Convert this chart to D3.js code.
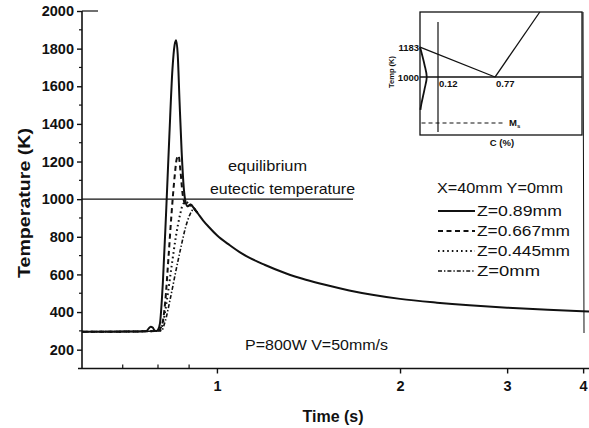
<!DOCTYPE html>
<html>
<head>
<meta charset="utf-8">
<script src="https://cdn.jsdelivr.net/npm/d3@7"></script>
<style>
  html, body { margin: 0; padding: 0; background: #fff; }
  svg { display: block; font-family: "Liberation Sans", Arial, Helvetica, sans-serif; }
</style>
</head>
<body>
<svg id="chart" width="589" height="428"></svg>
<script>
// Thermal cycle at X=40mm, Y=0mm for four depths below the surface (P=800W, V=50mm/s)

// Axis ticks
const tempTicks = [200, 400, 600, 800, 1000, 1200, 1400, 1600, 1800, 2000];
const tempMinorTicks = [300, 500, 700, 900, 1100, 1300, 1500, 1700, 1900];
const timeTicks = [1, 2, 3, 4];
const timeMinorTicks = [0.7, 0.8, 0.9];

// Heating part of each curve (time in s, temperature in K)
const z089Time = [0.60, 0.70, 0.765, 0.772, 0.778, 0.784, 0.789, 0.794, 0.800, 0.806, 0.815, 0.825, 0.835, 0.845, 0.852, 0.857, 0.862, 0.868, 0.875, 0.882, 0.888, 0.895, 0.905, 0.915];
const z089Temp = [295, 296, 298, 312, 322, 318, 304, 299, 306, 340, 560, 930, 1330, 1690, 1820, 1845, 1770, 1520, 1250, 1060, 985, 962, 972, 955];

const z0667Time = [0.60, 0.70, 0.800, 0.812, 0.822, 0.832, 0.842, 0.852, 0.859, 0.865, 0.871, 0.878, 0.886, 0.895, 0.905, 0.915];
const z0667Temp = [295, 296, 300, 330, 450, 680, 920, 1120, 1215, 1230, 1150, 1030, 975, 962, 970, 955];

const z0445Time = [0.60, 0.70, 0.805, 0.815, 0.828, 0.842, 0.856, 0.870, 0.880, 0.890, 0.900, 0.915];
const z0445Temp = [295, 296, 300, 340, 470, 640, 800, 920, 975, 985, 972, 955];

const z0Time = [0.60, 0.70, 0.810, 0.822, 0.838, 0.855, 0.872, 0.888, 0.902, 0.915];
const z0Temp = [295, 296, 300, 350, 470, 610, 740, 850, 915, 945];

// Common cooling branch shared by all depths
const coolTime = [0.93, 0.95, 0.97, 1.0, 1.05, 1.1, 1.2, 1.3, 1.4, 1.5, 1.65, 1.8, 2.0, 2.3, 2.6, 3.0, 3.5, 4.09];
const coolTemp = [925, 885, 852, 808, 755, 710, 650, 605, 572, 546, 515, 492, 470, 450, 436, 423, 412, 403];

const eutecticTemp = 1000;
const seriesLabels = ["Z=0.89mm", "Z=0.667mm", "Z=0.445mm", "Z=0mm"];
const seriesDash = [null, "5,3.5", "1.6,3", "4,2,1.4,2"];
const seriesWidth = [2, 2, 2, 1.6];

// Inset: Fe-C diagram near the eutectoid
const insetGammaC = [0, 0.03, 0.045, 0.03, 0.008, 0.003];
const insetGammaT = [1183, 1075, 1000, 925, 830, 800];
const insetA3C = [0, 0.77];
const insetA3T = [1183, 1000];
const insetAcmC = [0.77, 1.28];
const insetAcmT = [1000, 1397];
const insetEutectoidC = [0, 1.76];
const insetEutectoidT = [1000, 1000];
const insetSteelC = 0.12;
const insetSteelT = [1336, 664];
const insetMsC = [0.01, 0.885];
const insetMsT = 719;
const insetTempLabels = [1183, 1000];
const insetCLabels = ["0.12", "0.77"];

const svg = d3.select("#chart");
const ink = "#111";

// Main scales
const x = d3.scaleLog().domain([0.6, 4.09]).range([82, 589]);
const y = d3.scaleLinear().domain([100, 2000]).range([368.5, 11]);

// Y axis
const yAxis = d3.axisLeft(y).tickValues(tempTicks).tickSize(5).tickPadding(3).tickFormat(d3.format("d"));
const gy = svg.append("g").attr("transform", "translate(82,0)").call(yAxis);
gy.select(".domain").attr("stroke", ink).attr("stroke-width", 1.6).attr("d", `M0,${y(100)}V${y(2000)}`);
gy.selectAll(".tick line").attr("stroke", ink).attr("stroke-width", 1.4);
gy.selectAll(".tick text").attr("fill", ink).attr("font-size", 14.5).attr("font-weight", "bold");
gy.selectAll(".minor").data(tempMinorTicks).enter().append("line")
  .attr("x1", -3).attr("x2", 0).attr("y1", d => y(d)).attr("y2", d => y(d))
  .attr("stroke", ink).attr("stroke-width", 1.2);

// X axis (log time)
const xAxis = d3.axisBottom(x).tickValues(timeTicks).tickSize(5).tickPadding(7).tickFormat(d3.format("d"));
const gx = svg.append("g").attr("transform", `translate(0,${y(100)})`).call(xAxis);
gx.select(".domain").attr("stroke", ink).attr("stroke-width", 1.6).attr("d", `M78,0H589`);
gx.selectAll(".tick line").attr("stroke", ink).attr("stroke-width", 1.4);
gx.selectAll(".tick text").attr("fill", ink).attr("font-size", 14.5).attr("font-weight", "bold");
gx.selectAll(".minor").data(timeMinorTicks).enter().append("line")
  .attr("x1", d => x(d)).attr("x2", d => x(d)).attr("y1", -4).attr("y2", 0)
  .attr("stroke", ink).attr("stroke-width", 1.2);

// short top frame stub
svg.append("line").attr("x1", 82).attr("x2", 98).attr("y1", y(2000)).attr("y2", y(2000))
  .attr("stroke", ink).attr("stroke-width", 1.2);

// Axis titles
svg.append("text").attr("x", 333).attr("y", 422).attr("text-anchor", "middle")
  .attr("font-size", 16).attr("font-weight", "bold").attr("fill", ink).text("Time (s)");
svg.append("text").attr("transform", "translate(30,203) rotate(-90)").attr("text-anchor", "middle")
  .attr("font-size", 16).attr("font-weight", "bold").attr("fill", ink)
  .attr("textLength", 150).attr("lengthAdjust", "spacingAndGlyphs").text("Temperature (K)");

// Equilibrium eutectic temperature line
svg.append("line").attr("x1", x(0.6)).attr("x2", 353).attr("y1", y(eutecticTemp)).attr("y2", y(eutecticTemp))
  .attr("stroke", ink).attr("stroke-width", 1.4);
svg.append("text").attr("x", 228).attr("y", 171).attr("font-size", 15).attr("fill", ink)
  .attr("textLength", 79).attr("lengthAdjust", "spacingAndGlyphs").text("equilibrium");
svg.append("text").attr("x", 210).attr("y", 194).attr("font-size", 15).attr("fill", ink)
  .attr("textLength", 145).attr("lengthAdjust", "spacingAndGlyphs").text("eutectic temperature");
svg.append("text").attr("x", 245).attr("y", 350).attr("font-size", 15).attr("fill", ink)
  .attr("textLength", 143).attr("lengthAdjust", "spacingAndGlyphs").text("P=800W  V=50mm/s");

// Curves
const line = d3.line().x(d => x(d[0])).y(d => y(d[1])).curve(d3.curveMonotoneX);
const heatTimes = [z089Time, z0667Time, z0445Time, z0Time];
const heatTemps = [z089Temp, z0667Temp, z0445Temp, z0Temp];
heatTimes.forEach((ts, i) => {
  const pts = ts.map((t, k) => [t, heatTemps[i][k]]);
  if (i === 0) coolTime.forEach((t, k) => pts.push([t, coolTemp[k]]));
  else pts.push([coolTime[0], coolTemp[0]]);
  svg.append("path").attr("d", line(pts)).attr("fill", "none")
    .attr("stroke", ink).attr("stroke-width", seriesWidth[i])
    .attr("stroke-dasharray", seriesDash[i]).attr("stroke-linejoin", "round");
});

// Legend
svg.append("text").attr("x", 437).attr("y", 193).attr("font-size", 14).attr("fill", ink)
  .attr("textLength", 126).attr("lengthAdjust", "spacingAndGlyphs").text("X=40mm Y=0mm");
const legendLen = [85, 93, 93, 63];
seriesLabels.forEach((lab, i) => {
  const yy = 211 + i * 20;
  svg.append("line").attr("x1", 438).attr("x2", 475).attr("y1", yy).attr("y2", yy)
    .attr("stroke", ink).attr("stroke-width", seriesWidth[i]).attr("stroke-dasharray", seriesDash[i]);
  svg.append("text").attr("x", 477).attr("y", yy + 5).attr("font-size", 14).attr("fill", ink)
    .attr("textLength", legendLen[i]).attr("lengthAdjust", "spacingAndGlyphs").text(lab);
});

// Inset diagram
const ix = d3.scaleLinear().domain([0, 0.12, 0.77, 1.76]).range([420, 438, 495, 582]);
const iy = d3.scaleLinear().domain([646, 1397]).range([135, 12]);
const ins = svg.append("g");
ins.append("rect").attr("x", ix(0)).attr("y", iy(1397)).attr("width", ix(1.76) - ix(0)).attr("height", iy(646) - iy(1397))
  .attr("fill", "none").attr("stroke", ink).attr("stroke-width", 1.3);
// right frame continues down the plot
svg.append("line").attr("x1", 583).attr("x2", 584).attr("y1", iy(1397)).attr("y2", 333)
  .attr("stroke", ink).attr("stroke-width", 1);
const iline = d3.line().x(d => ix(d[0])).y(d => iy(d[1]));
const pairs = (cs, ts) => cs.map((c, k) => [c, ts[k]]);
ins.append("path").attr("d", iline.curve(d3.curveCatmullRom)(pairs(insetGammaC, insetGammaT)))
  .attr("fill", "none").attr("stroke", ink).attr("stroke-width", 1.8);
iline.curve(d3.curveLinear);
ins.append("path").attr("d", iline(pairs(insetA3C, insetA3T))).attr("fill", "none").attr("stroke", ink).attr("stroke-width", 1.3);
ins.append("path").attr("d", iline(pairs(insetAcmC, insetAcmT))).attr("fill", "none").attr("stroke", ink).attr("stroke-width", 1.3);
ins.append("path").attr("d", iline(pairs(insetEutectoidC, insetEutectoidT))).attr("fill", "none").attr("stroke", ink).attr("stroke-width", 1.3);
ins.append("line").attr("x1", ix(insetSteelC)).attr("x2", ix(insetSteelC)).attr("y1", iy(insetSteelT[0])).attr("y2", iy(insetSteelT[1]))
  .attr("stroke", ink).attr("stroke-width", 1.2);
ins.append("line").attr("x1", ix(insetMsC[0])).attr("x2", ix(insetMsC[1])).attr("y1", iy(insetMsT)).attr("y2", iy(insetMsT))
  .attr("stroke", ink).attr("stroke-width", 1.1).attr("stroke-dasharray", "4,3");
const ms = ins.append("text").attr("x", ix(insetMsC[1]) + 4).attr("y", iy(insetMsT) + 3).attr("font-size", 9.5)
  .attr("font-weight", "bold").attr("fill", ink);
ms.append("tspan").text("M");
ms.append("tspan").attr("font-size", 6).attr("dy", 2).text("s");
insetTempLabels.forEach(v => {
  ins.append("text").attr("x", ix(0) - 1).attr("y", iy(v) + 3.5).attr("text-anchor", "end")
    .attr("font-size", 9.5).attr("font-weight", "bold").attr("fill", ink).text(v);
});
insetCLabels.forEach(v => {
  ins.append("text").attr("x", ix(+v) + 1).attr("y", iy(1000) + 10).attr("font-size", 9.5)
    .attr("font-weight", "bold").attr("fill", ink).text(v);
});
ins.append("text").attr("x", 502).attr("y", 146).attr("text-anchor", "middle").attr("font-size", 9.5).attr("font-weight", "bold")
  .attr("fill", ink).text("C (%)");
ins.append("text").attr("transform", "translate(394,72) rotate(-90)").attr("text-anchor", "middle")
  .attr("font-size", 7.5).attr("font-weight", "bold").attr("fill", ink).text("Temp (K)");
</script>
</body>
</html>
